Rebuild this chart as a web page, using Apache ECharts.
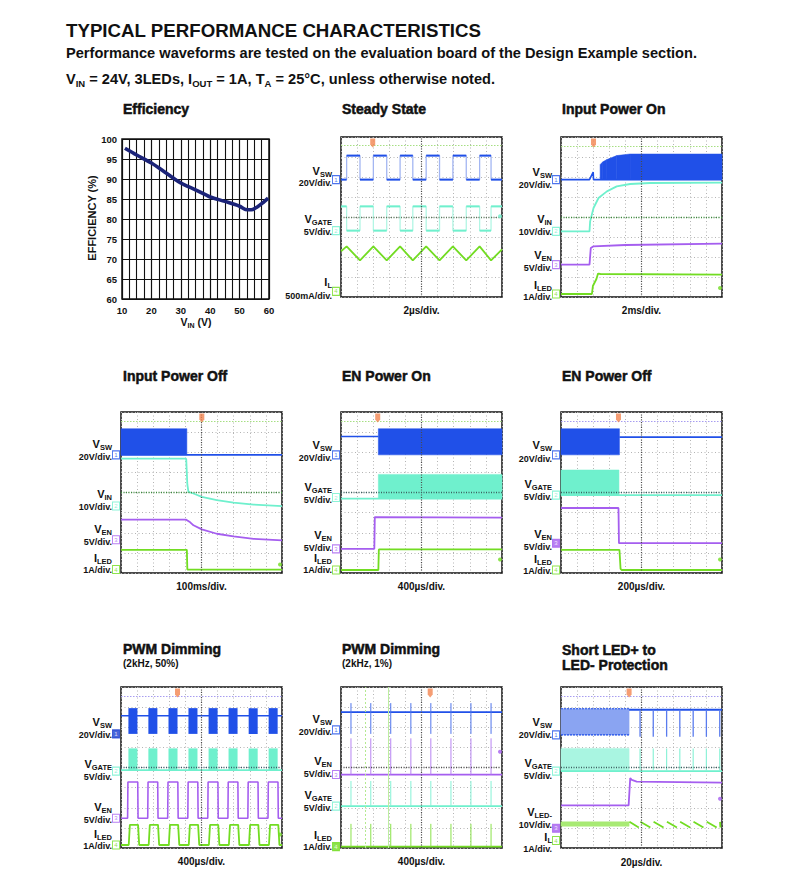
<!DOCTYPE html>
<html><head><meta charset="utf-8">
<script src="https://cdn.jsdelivr.net/npm/echarts/dist/echarts.min.js"></script>
<style>html,body{margin:0;padding:0;background:#fff}#c{width:788px;height:884px}</style>
</head><body><div id="c"></div>
<script>
const FF = "'Liberation Sans', Arial, Helvetica, sans-serif";
const COL = {sw:'#2050e8', swEdge:'#a3b6f2', swLite:'#8aa4f2', gate:'#6ff0cd', gateEdge:'#b2f6e4', gateLite:'#a9f5e1', en:'#a55eef', led:'#72dc22', ledLite:'#a8ea74',
  trig:'#f28450', topG:'#a6df82', topL:'#a79cf0', grid:'#b4b4b4', center:'#4a4a4a', centerG:'#3c8c3c', ink:'#111111', eff:'#1b2378'};

// ---------------- Efficiency ----------------
const effVin = [11, 15, 20, 25, 30, 35, 40, 45, 50, 52, 54, 56, 58, 59.7];
const effPct = [97.7, 96.0, 94.0, 91.5, 89.0, 87.3, 85.5, 84.4, 83.2, 82.4, 82.3, 83.0, 84.1, 85.2];

// ---------------- Scope traces (x in divisions 0..10, y in divisions 0..8) ----------------
// Steady State
const ssSwEdges = [0.35, 1.18, 2.01, 2.84, 3.67, 4.46, 5.29, 6.12, 6.95, 7.78, 8.61, 9.32];
const ssSwLevels = [5.87, 7.07];
const ssGateLevels = [3.32, 4.53];
const ssIl = [[0,2.28],[0.35,2.53],[1.18,1.83],[2.01,2.53],[2.84,1.83],[3.67,2.53],[4.46,1.83],[5.29,2.53],[6.12,1.83],[6.95,2.53],[7.78,1.83],[8.61,2.53],[9.32,1.83],[10,2.38]];

// Input Power On
const ionSw = [[0,5.87],[1.77,5.87],[2.0,6.25],[2.02,5.87],[2.43,5.87],[10,5.87]];
const ionSwBand = [[2.43,5.87,6.62],[2.6,5.87,6.76],[2.85,5.87,6.87],[3.46,5.87,7.07],[4.29,5.87,7.15],[10,5.87,7.15]];
const ionVin = [[0,3.28],[1.77,3.28],[1.81,3.78],[2.02,4.45],[2.33,4.95],[2.85,5.28],[3.46,5.53],[4.29,5.65],[5.53,5.70],[10,5.72]];
const ionEn = [[0,1.62],[1.77,1.62],[1.85,2.45],[2.0,2.53],[4.0,2.60],[10,2.67]];
const ionLed = [[0,0.15],[1.92,0.15],[1.98,0.55],[2.2,0.9],[2.3,1.17],[2.45,1.15],[10,1.12]];

// Input Power Off
const ioffSwBand = [[0,5.87,7.17],[4.09,5.87,7.17]];
const ioffSw = [[0,5.87],[10,5.87]];
const ioffVin = [[0,5.68],[4.05,5.68],[4.12,4.40],[4.19,4.03],[4.5,3.95],[5.02,3.78],[5.95,3.62],[6.99,3.50],[8.24,3.40],[10,3.32]];
const ioffEn = [[0,2.65],[4.05,2.65],[4.3,2.52],[4.5,2.37],[5.02,2.17],[5.95,1.95],[6.99,1.82],[8.24,1.70],[10,1.62]];
const ioffLed = [[0,1.15],[4.09,1.15],[4.12,0.17],[10,0.17]];

// EN Power On
const enonSw = [[0,6.78],[2.32,6.78]];
const enonSwBand = [[2.32,5.87,7.17],[10,5.87,7.17]];
const enonGate = [[0,3.70],[10,3.70]];
const enonGateBand = [[2.32,3.70,4.90],[10,3.70,4.90]];
const enonEn = [[0,1.20],[2.07,1.20],[2.10,2.78],[10,2.75]];
const enonLed = [[0,0.15],[2.32,0.15],[2.35,1.17],[10,1.17]];

// EN Power Off
const enoffSwBand = [[0,5.87,7.17],[3.63,5.87,7.17]];
const enoffSw = [[3.63,6.75],[10,6.75]];
const enoffGateBand = [[0,3.87,5.12],[3.60,3.87,5.12]];
const enoffGate = [[0,3.87],[10,3.87]];
const enoffEn = [[0,3.23],[3.57,3.23],[3.60,1.48],[10,1.48]];
const enoffLed = [[0,1.15],[3.63,1.15],[3.70,0.20],[3.76,0.15],[10,0.15]];

// PWM Dimming 2kHz 50%
const p50BurstStart = [0.46, 1.70, 2.95, 4.19, 5.44, 6.68, 7.93, 9.17];
const p50BurstEnd   = [1.02, 2.26, 3.51, 4.75, 6.00, 7.24, 8.49, 9.73];
const p50SwLevels = [5.67, 6.57, 6.95];   // burst low, idle, burst high
const p50GateLevels = [3.87, 4.95];
const p50EnRise = [0.41, 1.66, 2.90, 4.15, 5.39, 6.64, 7.88, 9.13];
const p50EnFall = [1.04, 2.28, 3.53, 4.77, 6.02, 7.26, 8.51, 9.75];
const p50EnLevels = [1.48, 3.28];
const p50LedRise = [0.48, 1.72, 2.97, 4.21, 5.46, 6.70, 7.95, 9.19];
const p50LedFall = [1.06, 2.30, 3.55, 4.79, 6.04, 7.28, 8.53, 9.77];
const p50LedLevels = [0.15, 1.15];

// PWM Dimming 2kHz 1%
const p1Pulses = [0.62, 1.85, 3.09, 4.34, 5.58, 6.83, 8.07, 9.32];
const p1SwLevels = [5.67, 6.75, 7.20];
const p1EnLevels = [3.65, 5.45];
const p1GateLevels = [2.08, 3.33];
const p1LedLevels = [0.07, 1.20];
const p1Cursors = [1.49, 2.95];

// Short LED+ to LED- Protection
const shFault = 4.23;
const shPulses = [4.91, 5.73, 6.56, 7.38, 8.21, 9.03, 9.86];
const shSwLevels = [5.62, 6.92, 6.87, 5.53]; // band low, band high, idle, spike low
const shGateLevels = [3.82, 4.95];
const shVled = [[0,2.12],[4.20,2.12],[4.30,3.48],[4.40,3.38],[4.70,3.30],[10,3.25]];
const shIlBand = [1.08, 1.30];
const shIlPeaks = [4.25, 4.93, 5.75, 6.58, 7.40, 8.23, 9.05, 9.88];
const shIlLevels = [1.02, 1.30];

// ---------------- helpers ----------------
function stepLine(edges, lo, hi, startHigh){
  const pts = []; let v = startHigh ? hi : lo; pts.push([0, v]);
  edges.forEach(e => { pts.push([e, v]); v = (v === hi) ? lo : hi; pts.push([e, v]); });
  pts.push([10, v]); return pts;
}
function plateaus(pts){
  const segs = [];
  for (let k = 0; k + 1 < pts.length; k++) if (pts[k][1] === pts[k+1][1] && pts[k+1][0] > pts[k][0]) segs.push([pts[k][0], pts[k+1][0], pts[k][1]]);
  return segs;
}
function rampPulse(rises, falls, lo, hi, ramp){
  const pts = [[0, lo]];
  rises.forEach((r, i) => { const f = falls[i]; pts.push([r, lo], [r + ramp, hi], [f, hi], [Math.min(10, f + ramp), lo]); });
  pts.push([10, lo]); return pts;
}
function lineS(gi, data, color, width, extra){
  return Object.assign({type:'line', xAxisIndex:gi, yAxisIndex:gi, data, showSymbol:false, symbol:'none',
    lineStyle:{color, width: width || 1.6}, silent:true, animation:false, z:3}, extra || {});
}
function hsegS(gi, segs, color, width){
  return {type:'custom', xAxisIndex:gi, yAxisIndex:gi, data:segs, silent:true, animation:false, z:4,
    renderItem: (params, api) => {
      const a = api.coord([api.value(0), api.value(2)]), b = api.coord([api.value(1), api.value(2)]);
      return {type:'line', shape:{x1:a[0], y1:a[1], x2:b[0], y2:b[1]}, style:{stroke:color, lineWidth: width || 2}};
    }};
}
function envS(gi, pts, color, z){
  const d = pts.slice(0, -1).map((p, i) => [p[0], p[1], p[2], pts[i+1][0], pts[i+1][1], pts[i+1][2]]);
  return {type:'custom', xAxisIndex:gi, yAxisIndex:gi, data:d, silent:true, animation:false, z: z || 2,
    renderItem: (params, api) => {
      const a = api.coord([api.value(0), api.value(1)]), b = api.coord([api.value(0), api.value(2)]);
      const c = api.coord([api.value(3), api.value(5)]), e = api.coord([api.value(3), api.value(4)]);
      return {type:'polygon', shape:{points:[a, b, c, e]}, style:{fill:color, stroke:color, lineWidth:0.5}};
    }};
}
function rectS(gi, starts, ends, lo, hi, color){
  const d = starts.map((s, i) => [s, ends[i], lo, hi]);
  return {type:'custom', xAxisIndex:gi, yAxisIndex:gi, data:d, silent:true, animation:false, z:2,
    renderItem: (params, api) => {
      const p0 = api.coord([api.value(0), api.value(3)]), p1 = api.coord([api.value(1), api.value(2)]);
      return {type:'rect', shape:{x:p0[0], y:p0[1], width:p1[0]-p0[0], height:p1[1]-p0[1]}, style:{fill:color}};
    }};
}
function vsegS(gi, xs, y0, y1, color, width){
  const d = xs.map(x => [x, y0, y1]);
  return {type:'custom', xAxisIndex:gi, yAxisIndex:gi, data:d, silent:true, animation:false, z:4,
    renderItem: (params, api) => {
      const a = api.coord([api.value(0), api.value(1)]), b = api.coord([api.value(0), api.value(2)]);
      return {type:'line', shape:{x1:a[0], y1:a[1], x2:b[0], y2:b[1]}, style:{stroke:color, lineWidth: width || 1}};
    }};
}
function markersS(gi, list){
  return {type:'scatter', xAxisIndex:gi, yAxisIndex:gi, clip:false, silent:true, z:6, animation:false,
    data: list.map(m => ({value:[0, m[0]], symbol:'rect', symbolSize:[7, 8], symbolOffset:[-5, 0],
      itemStyle:{color: m[3] ? m[1] : '#ffffff', borderColor:m[1], borderWidth:1},
      label:{show:true, formatter:String(m[2]), position:'inside', fontSize:6, fontFamily:FF, color: m[3] ? '#ffffff' : m[1]}}))};
}
function dotS(gi, lvl, color){
  return {type:'scatter', xAxisIndex:gi, yAxisIndex:gi, clip:false, silent:true, z:6, animation:false,
    symbol:'circle', symbolSize:4, symbolOffset:[-2, 0], itemStyle:{color}, data:[[10, lvl]]};
}
function trigS(gi, tx){
  return {type:'scatter', xAxisIndex:gi, yAxisIndex:gi, clip:false, silent:true, z:7, animation:false,
    symbol:'path://M0,0 L10,0 L10,10 L5,15 L0,10 Z', symbolSize:[5, 9], symbolOffset:[0, 6],
    itemStyle:{color:COL.trig}, data:[[tx, 8]]};
}
function decor(gi, centerColor, topLine, extraLines){
  const data = [{xAxis:5, lineStyle:{color:COL.center, type:[1,1.5], width:1.2}},
                {yAxis:4, lineStyle:{color:centerColor, type:[1,1.5], width:1.4}}];
  if (topLine) data.push({yAxis:topLine[0], lineStyle:{color:topLine[1], type:[1.5,1.5], width:1}});
  (extraLines || []).forEach(l => data.push(l));
  return {type:'line', xAxisIndex:gi, yAxisIndex:gi, data:[[0,-5],[10,-5]], showSymbol:false, silent:true, animation:false,
    lineStyle:{width:0}, z:1, markLine:{silent:true, symbol:'none', animation:false, label:{show:false}, data}};
}

// ---------------- layout ----------------
const scopes = [
  {L:341, T:137, H:160, tdiv:'2µs/div.',   tdivY:310},
  {L:561, T:137, H:160, tdiv:'2ms/div.',   tdivY:310},
  {L:121, T:412, H:161, tdiv:'100ms/div.', tdivY:586},
  {L:341, T:412, H:161, tdiv:'400µs/div.', tdivY:586},
  {L:561, T:412, H:161, tdiv:'200µs/div.', tdivY:586},
  {L:121, T:687, H:161, tdiv:'400µs/div.', tdivY:861},
  {L:341, T:687, H:161, tdiv:'400µs/div.', tdivY:861},
  {L:561, T:687, H:161, tdiv:'20µs/div.',  tdivY:862}
];
const W = 161;

const option = {animation:false, backgroundColor:'#ffffff', grid:[], xAxis:[], yAxis:[], series:[], graphic:[]};

// efficiency grid
option.grid.push({left:122, top:139, width:147, height:160, show:true, borderColor:COL.ink, borderWidth:1.5,
  backgroundColor:'#fff', containLabel:false, outerBoundsMode:'none'});
option.xAxis.push({type:'value', gridIndex:0, min:10, max:60, interval:10,
  axisLine:{show:false}, axisTick:{show:false},
  axisLabel:{fontFamily:FF, fontWeight:'bold', fontSize:9.5, color:COL.ink, margin:6},
  splitLine:{show:true, lineStyle:{color:COL.ink, width:1.2}},
  minorTick:{show:false, splitNumber:4}, minorSplitLine:{show:true, lineStyle:{color:COL.ink, width:1.1}}});
option.yAxis.push({type:'value', gridIndex:0, min:60, max:100, interval:5,
  axisLine:{show:false}, axisTick:{show:false},
  axisLabel:{fontFamily:FF, fontWeight:'bold', fontSize:9.5, color:COL.ink, margin:5},
  splitLine:{show:true, lineStyle:{color:COL.ink, width:1.2}}});
option.series.push({type:'line', xAxisIndex:0, yAxisIndex:0, data: effVin.map((v, i) => [v, effPct[i]]),
  smooth:0.3, showSymbol:false, symbol:'none', lineStyle:{color:COL.eff, width:3.6}, silent:true, z:5});

scopes.forEach((s, i) => {
  option.grid.push({left:s.L, top:s.T, width:W, height:s.H, show:true, borderColor:COL.ink, borderWidth:1.5,
    backgroundColor:'#fff', containLabel:false, outerBoundsMode:'none'});
  const ax = {type:'value', gridIndex:i+1, axisLine:{show:false}, axisTick:{show:false}, axisLabel:{show:false},
    splitLine:{show:true, lineStyle:{color:COL.grid, type:[1,2.5], width:1}}};
  option.xAxis.push(Object.assign({min:0, max:10, interval:1}, ax));
  option.yAxis.push(Object.assign({min:0, max:8, interval:1}, ax));
});

const S = option.series;
// 1 Steady State
const ssSw = stepLine(ssSwEdges, ssSwLevels[0], ssSwLevels[1], false);
const ssGate = stepLine(ssSwEdges, ssGateLevels[0], ssGateLevels[1], true);
S.push(decor(1, '#5f7a5f', [7.58, COL.topG]));
S.push(lineS(1, ssSw, COL.swEdge, 1.3));
S.push(hsegS(1, plateaus(ssSw), COL.sw, 2));
S.push(lineS(1, ssGate, COL.gateEdge, 1.3));
S.push(hsegS(1, plateaus(ssGate), COL.gate, 2));
S.push(lineS(1, ssIl, COL.led, 1.8));
S.push(markersS(1, [[5.87, COL.sw, 1], [3.32, COL.gate, 2], [0.28, COL.led, 4]]));
S.push(dotS(1, 4.04, COL.gate));
S.push(trigS(1, 1.97));
// 2 Input Power On
S.push(decor(2, COL.centerG, [7.53, COL.topG]));
S.push(envS(2, ionSwBand, COL.sw));
S.push(lineS(2, ionSw, COL.sw, 1.6));
S.push(lineS(2, ionVin, COL.gate, 1.8));
S.push(lineS(2, ionEn, COL.en, 1.8));
S.push(lineS(2, ionLed, COL.led, 1.8));
S.push(markersS(2, [[5.87, COL.sw, 1], [3.28, COL.gate, 2], [1.62, COL.en, 3], [0.15, COL.led, 4]]));
S.push(dotS(2, 0.45, COL.led));
S.push(trigS(2, 2.02));
// 3 Input Power Off
S.push(decor(3, COL.centerG, [7.53, COL.topG]));
S.push(envS(3, ioffSwBand, COL.sw));
S.push(lineS(3, ioffSw, COL.sw, 1.6));
S.push(lineS(3, ioffVin, COL.gate, 1.8));
S.push(lineS(3, ioffEn, COL.en, 1.8));
S.push(lineS(3, ioffLed, COL.led, 1.8));
S.push(markersS(3, [[5.87, COL.sw, 1], [3.33, COL.gate, 2], [1.65, COL.en, 3], [0.17, COL.led, 4]]));
S.push(dotS(3, 0.42, COL.led));
S.push(trigS(3, 5.02));
// 4 EN Power On
S.push(decor(4, '#3c6060', [7.53, COL.topG]));
S.push(envS(4, enonSwBand, COL.sw));
S.push(lineS(4, enonSw, COL.sw, 1.6));
S.push(envS(4, enonGateBand, COL.gate));
S.push(lineS(4, enonGate, COL.gate, 1.8));
S.push(lineS(4, enonEn, COL.en, 1.8));
S.push(lineS(4, enonLed, COL.led, 1.8));
S.push(markersS(4, [[5.87, COL.sw, 1], [3.75, COL.gate, 2], [1.20, COL.en, 3], [0.15, COL.led, 4]]));
S.push(dotS(4, 0.67, COL.led));
S.push(trigS(4, 2.28));
// 5 EN Power Off
S.push(decor(5, '#3c6060', [7.53, COL.topL]));
S.push(envS(5, enoffSwBand, COL.sw));
S.push(lineS(5, enoffSw, COL.sw, 1.6));
S.push(envS(5, enoffGateBand, COL.gate));
S.push(lineS(5, enoffGate, COL.gate, 1.8));
S.push(lineS(5, enoffEn, COL.en, 1.8));
S.push(lineS(5, enoffLed, COL.led, 1.8));
S.push(markersS(5, [[5.87, COL.sw, 1], [3.87, COL.gate, 2], [1.48, COL.en, 3, true], [0.15, COL.led, 4]]));
S.push(dotS(5, 0.67, COL.led));
S.push(trigS(5, 3.57));
// 6 PWM 50%
S.push(decor(6, '#3c5a66', [7.53, COL.topL]));
S.push(lineS(6, [[0, p50SwLevels[1]], [10, p50SwLevels[1]]], COL.sw, 1.6));
S.push(rectS(6, p50BurstStart, p50BurstEnd, p50SwLevels[0], p50SwLevels[2], COL.sw));
S.push(lineS(6, [[0, p50GateLevels[0]], [10, p50GateLevels[0]]], COL.gate, 1.8));
S.push(rectS(6, p50BurstStart, p50BurstEnd, p50GateLevels[0], p50GateLevels[1], COL.gate));
S.push(lineS(6, rampPulse(p50EnRise, p50EnFall, p50EnLevels[0], p50EnLevels[1], 0.02), COL.en, 1.6));
S.push(lineS(6, rampPulse(p50LedRise, p50LedFall, p50LedLevels[0], p50LedLevels[1], 0.07), COL.led, 1.8));
S.push(markersS(6, [[5.67, '#1a3fd0', 1, true], [3.82, COL.gate, 2], [1.48, COL.en, 3], [0.15, COL.led, 4]]));
S.push(dotS(6, 0.67, COL.led));
S.push(trigS(6, 3.51));
// 7 PWM 1%
S.push(decor(7, '#555555', null, [
  {xAxis:p1Cursors[0], lineStyle:{color:'#b5ea90', type:[2,2], width:1}},
  {xAxis:p1Cursors[1], lineStyle:{color:'#bdeea0', type:'solid', width:1}}]));
S.push(lineS(7, [[0, p1SwLevels[1]], [10, p1SwLevels[1]]], COL.sw, 1.8));
S.push(vsegS(7, p1Pulses, p1SwLevels[0], p1SwLevels[2], '#4f74ec', 1));
S.push(lineS(7, [[0, p1EnLevels[0]], [10, p1EnLevels[0]]], COL.en, 1.8));
S.push(vsegS(7, p1Pulses, p1EnLevels[0], p1EnLevels[1], '#b884f2', 1));
S.push(lineS(7, [[0, p1GateLevels[0]], [10, p1GateLevels[0]]], COL.gate, 1.8));
S.push(vsegS(7, p1Pulses, p1GateLevels[0], p1GateLevels[1], '#86f2d6', 1));
S.push(lineS(7, [[0, p1LedLevels[0]], [10, p1LedLevels[0]]], COL.led, 1.8));
S.push(vsegS(7, p1Pulses, p1LedLevels[0], p1LedLevels[1], '#8ae24a', 1));
S.push(markersS(7, [[5.87, COL.sw, 1], [3.65, COL.en, 3], [2.08, COL.gate, 2], [0.07, COL.led, 4, true]]));
S.push(dotS(7, 4.78, COL.en));
S.push(trigS(7, 5.54));
// 8 Short protection
S.push(decor(8, '#3c6060', [7.53, COL.topL]));
S.push(envS(8, [[0, shSwLevels[0], shSwLevels[1]], [shFault, shSwLevels[0], shSwLevels[1]]], COL.swLite));
S.push(lineS(8, [[0, shSwLevels[1]], [shFault, shSwLevels[1]]], COL.sw, 1.2, {lineStyle:{color:COL.sw, width:1.2, type:[2,1]}}));
S.push(lineS(8, [[0, shSwLevels[0]], [shFault, shSwLevels[0]]], COL.sw, 1.2, {lineStyle:{color:COL.sw, width:1.2, type:[2,1]}}));
S.push(lineS(8, [[shFault, shSwLevels[2]], [10, shSwLevels[2]]], COL.sw, 1.8));
S.push(vsegS(8, shPulses, shSwLevels[3], shSwLevels[2], '#5a7cee', 1.3));
S.push(envS(8, [[0, shGateLevels[0], shGateLevels[1]], [shFault, shGateLevels[0], shGateLevels[1]]], COL.gateLite));
S.push(lineS(8, [[0, shGateLevels[0]], [10, shGateLevels[0]]], COL.gate, 1.8));
S.push(vsegS(8, shPulses, shGateLevels[0], shGateLevels[1], '#8ef2d8', 1.2));
S.push(lineS(8, shVled, COL.en, 1.8));
S.push(envS(8, [[0, shIlBand[0], shIlBand[1]], [shFault, shIlBand[0], shIlBand[1]]], COL.ledLite));
(function(){
  const pts = [];
  shIlPeaks.forEach((p, i) => {
    const next = i + 1 < shIlPeaks.length ? shIlPeaks[i+1] : 10;
    pts.push([p, shIlLevels[1]]);
    pts.push([Math.min(next - 0.1, p + 0.62), shIlLevels[0]]);
    pts.push(null);
  });
  S.push(lineS(8, pts, COL.led, 1.8, {connectNulls:false}));
})();
S.push(markersS(8, [[5.62, COL.sw, 1], [3.82, COL.gate, 2], [0.98, COL.en, 3, true], [0.37, COL.led, 4]]));
S.push(dotS(8, 2.45, COL.en));
S.push(trigS(8, 4.23));

// ---------------- texts ----------------
const G = option.graphic;
function txt(x, y, text, size, align, extra){
  return Object.assign({type:'text', x, y, silent:true, z:100,
    style:{text, fill:COL.ink, fontFamily:FF, fontWeight:'bold', fontSize:size, align:align || 'left', verticalAlign:'middle'}}, extra || {});
}
function richTxt(x, y, parts, size, subSize, align, extra){
  const text = parts.map(p => p[1] ? '{s|' + p[0] + '}' : '{n|' + p[0] + '}').join('');
  return Object.assign({type:'text', x, y, silent:true, z:100,
    style:{text, fill:COL.ink, fontFamily:FF, fontWeight:'bold', fontSize:size, align:align || 'left', verticalAlign:'middle',
      rich:{n:{fontFamily:FF, fontWeight:'bold', fontSize:size, fill:COL.ink, lineHeight:size + 1, verticalAlign:'top'},
            s:{fontFamily:FF, fontWeight:'bold', fontSize:subSize, fill:COL.ink, lineHeight:size + 2, verticalAlign:'bottom'}}}}, extra || {});
}
G.push(txt(66, 30, 'TYPICAL PERFORMANCE CHARACTERISTICS', 18.7));
G.push(txt(66, 53, 'Performance waveforms are tested on the evaluation board of the Design Example section.', 14.6));
G.push(richTxt(66, 80, [['V'],['IN',1],[' = 24V, 3LEDs, I'],['OUT',1],[' = 1A, T'],['A',1],[' = 25°C, unless otherwise noted.']], 14.6, 9.5));

// panel titles
function title(x, y, t, size){ const e = txt(x, y, t, size || 14); Object.assign(e.style, {stroke:COL.ink, lineWidth:0.5}); return e; }
G.push(title(123, 109, 'Efficiency'));
G.push(title(342, 109, 'Steady State'));
G.push(title(562, 109, 'Input Power On'));
G.push(title(123, 376, 'Input Power Off'));
G.push(title(342, 376, 'EN Power On'));
G.push(title(562, 376, 'EN Power Off'));
G.push(title(123, 649, 'PWM Dimming'));
G.push(txt(123, 663, '(2kHz, 50%)', 10));
G.push(title(342, 649, 'PWM Dimming'));
G.push(txt(342, 663, '(2kHz, 1%)', 10));
G.push(title(562, 650, 'Short LED+ to'));
G.push(title(562, 665, 'LED- Protection'));

// efficiency axis titles
G.push(txt(92, 218, 'EFFICIENCY (%)', 11, 'center', {rotation: Math.PI / 2}));
G.push(richTxt(196, 323, [['V'],['IN',1],[' (V)']], 10.5, 7, 'center'));

// time/div labels
scopes.forEach(s => G.push(txt(s.L + W / 2, s.tdivY, s.tdiv, 10, 'center')));

// channel labels: [main, sub, scale, y1, y2]
const chanLabels = [
  [['V','SW','20V/div.',172,183], ['V','GATE','5V/div.',220,232], ['I','L','500mA/div.',283,296]],
  [['V','SW','20V/div.',173,185], ['V','IN','10V/div.',220,232], ['V','EN','5V/div.',256,268], ['I','LED','1A/div.',286,297]],
  [['V','SW','20V/div.',445,457], ['V','IN','10V/div.',495,507], ['V','EN','5V/div.',530,542], ['I','LED','1A/div.',559,570]],
  [['V','SW','20V/div.',446,458], ['V','GATE','5V/div.',488,500], ['V','EN','5V/div.',536,548], ['I','LED','1A/div.',559,570]],
  [['V','SW','20V/div.',446,459], ['V','GATE','5V/div.',485,497], ['V','EN','5V/div.',535,547], ['I','LED','1A/div.',560,571]],
  [['V','SW','20V/div.',723,735], ['V','GATE','5V/div.',765,777], ['V','EN','5V/div.',808,820], ['I','LED','1A/div.',835,846]],
  [['V','SW','20V/div.',720,732], ['V','EN','5V/div.',762,774], ['V','GATE','5V/div.',796,808], ['I','LED','1A/div.',836,847]],
  [['V','SW','20V/div.',723,735], ['V','GATE','5V/div.',764,776], ['V','LED-','10V/div.',813,825], ['I','L','1A/div.',837.5,849]]
];
chanLabels.forEach((list, i) => {
  const xr = scopes[i].L - 9;
  list.forEach(l => {
    G.push(richTxt(xr, l[3], [[l[0]], [l[1], 1]], 11, 7.5, 'right'));
    G.push(txt(xr, l[4], l[2], 9, 'right'));
  });
});

const chart = echarts.init(document.getElementById('c'), null, {renderer:'svg', width:788, height:884});
chart.setOption(option);
</script></body></html>
